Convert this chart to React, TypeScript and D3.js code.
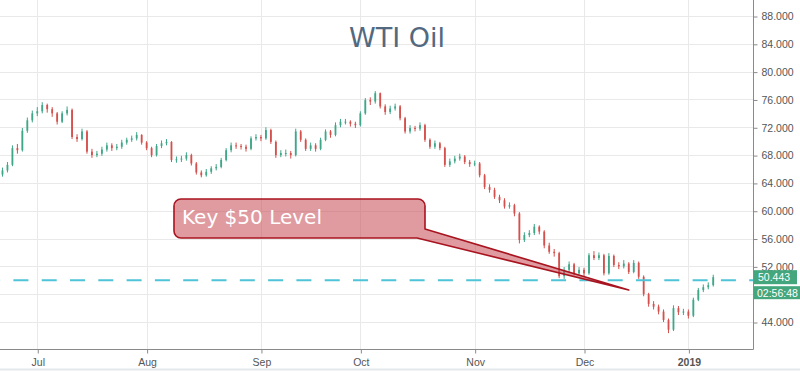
import React, { useRef, useEffect } from "react";
import * as d3 from "d3";

// daily closes (first candle 21 Jun 2018, weekdays)
const closes = [
  65.8, 66.6, 69.0, 68.7, 71.5, 73.0, 74.0, 74.3, 75.2, 74.6,
  74.0, 72.8, 74.0, 74.5, 70.6, 70.3, 71.4, 68.5, 68.0, 68.2,
  68.8, 69.4, 69.0, 69.2, 69.8, 70.2, 70.4, 70.9, 69.8, 69.0,
  68.0, 69.3, 69.7, 69.9, 67.3, 67.4, 67.5, 68.0, 66.8, 65.5,
  65.1, 65.6, 66.1, 66.3, 67.3, 68.7, 69.4, 69.3, 69.2, 68.9,
  70.4, 70.6, 70.4, 71.6, 69.9, 68.0, 68.3, 68.3, 68.0, 71.4,
  70.2, 68.9, 69.4, 68.9, 70.2, 71.4, 70.9, 72.3, 72.8, 72.8,
  72.5, 72.3, 74.0, 75.9, 75.7, 76.9, 75.0, 74.2, 74.7, 75.0,
  73.3, 71.4, 71.9, 71.8, 72.3, 70.2, 69.2, 69.7, 69.0, 66.6,
  67.1, 67.5, 67.8, 67.0, 66.7, 66.8, 65.1, 63.4, 63.0, 62.0,
  61.5, 60.6, 60.8, 59.6, 55.8, 56.5, 56.8, 57.7, 57.0, 55.0,
  54.1, 53.9, 50.6, 51.5, 52.3, 51.0, 51.5, 51.0, 53.6, 53.2,
  53.6, 51.0, 53.5, 52.2, 52.0, 52.4, 51.2, 52.5, 50.5, 48.0,
  46.6, 46.2, 45.5, 44.3, 42.9, 46.0, 45.4, 45.5, 44.9, 47.2,
  48.6, 49.0, 49.3, 50.443,
];
const highs = [
  66.2, 67.0, 69.4, 69.6, 71.9, 73.4, 74.4, 74.9, 75.6, 75.4,
  74.9, 74.2, 74.3, 75.0, 74.7, 71.0, 71.8, 71.6, 68.9, 68.6,
  69.2, 69.8, 69.7, 69.6, 70.2, 70.5, 70.8, 71.3, 71.0, 70.0,
  69.2, 69.6, 70.1, 70.3, 70.0, 67.8, 67.9, 68.4, 68.2, 67.0,
  65.8, 66.0, 66.4, 66.7, 67.6, 69.0, 69.8, 69.8, 69.6, 69.5,
  70.7, 71.0, 70.9, 72.0, 71.8, 70.1, 68.7, 68.8, 68.6, 71.8,
  71.6, 70.4, 69.8, 69.7, 70.5, 71.7, 71.6, 72.7, 73.2, 73.2,
  73.0, 72.8, 74.3, 76.2, 76.3, 77.2, 77.0, 75.3, 75.1, 75.4,
  75.2, 73.5, 72.3, 72.2, 72.7, 72.5, 70.4, 70.1, 69.9, 69.2,
  67.5, 67.9, 68.2, 68.0, 67.3, 67.2, 67.0, 65.3, 63.8, 63.3,
  62.3, 61.8, 61.2, 61.0, 59.8, 56.9, 57.2, 58.1, 57.9, 57.2,
  55.4, 54.5, 54.1, 51.9, 52.7, 52.5, 51.9, 51.8, 53.9, 54.2,
  54.0, 53.8, 53.9, 53.7, 52.6, 52.9, 52.6, 52.9, 52.7, 50.7,
  48.2, 47.0, 46.5, 45.8, 44.5, 46.4, 46.3, 45.9, 45.8, 47.5,
  48.9, 49.4, 49.7, 50.8,
];
const lows = [
  64.9, 65.5, 66.4, 68.2, 68.5, 71.2, 72.7, 73.6, 74.0, 74.1,
  73.5, 72.4, 72.6, 73.7, 70.3, 69.9, 70.1, 68.2, 67.6, 67.7,
  67.9, 68.5, 68.6, 68.7, 68.9, 69.5, 69.9, 70.1, 69.5, 68.7,
  67.7, 67.8, 69.0, 69.4, 67.0, 66.9, 67.0, 67.2, 66.5, 65.2,
  64.8, 64.9, 65.3, 65.8, 66.1, 67.1, 68.4, 68.9, 68.8, 68.5,
  68.7, 70.1, 70.0, 70.2, 69.6, 67.6, 67.7, 67.8, 67.5, 67.8,
  69.9, 68.6, 68.6, 68.5, 68.7, 70.0, 70.5, 70.7, 72.0, 72.4,
  72.1, 71.9, 72.1, 73.8, 75.2, 75.4, 74.7, 73.8, 73.9, 74.4,
  73.0, 71.1, 71.1, 71.4, 71.5, 69.9, 68.9, 68.9, 68.7, 66.3,
  66.3, 66.8, 67.2, 66.7, 66.3, 66.4, 64.8, 63.1, 62.6, 61.7,
  61.1, 60.3, 60.3, 59.2, 55.3, 55.5, 56.2, 56.5, 56.6, 54.6,
  53.8, 53.4, 50.3, 50.2, 51.2, 50.7, 50.8, 50.5, 50.8, 52.9,
  52.9, 50.7, 50.8, 51.9, 51.6, 51.7, 50.9, 51.0, 50.2, 47.7,
  46.2, 45.8, 45.1, 44.0, 42.4, 42.7, 45.0, 45.0, 44.5, 44.7,
  47.0, 48.3, 48.7, 49.1,
];
const firstOpen = 65.2;
const startDate = new Date(2018, 5, 21);

const yTicks = [44, 48, 52, 56, 60, 64, 68, 72, 76, 80, 84, 88];
// 48.000 sits under the countdown tag, so it gets no label
const yLabelTicks = [44, 52, 56, 60, 64, 68, 72, 76, 80, 84, 88];
const title = "WTI Oil";
const keyLevel = 50;
const lastPrice = 50.443;
const countdown = "02:56:48";
const calloutText = "Key $50 Level";
const calloutTip = { index: 126, price: 48.6 };

const UP = "#3fa688";
const DOWN = "#d4504c";
const GREEN_TAG = "#43a67c";

const App = () => {
  const svgRef = useRef<SVGSVGElement>(null);

  useEffect(() => {
    const W = 800;
    const H = 371;
    const plotRight = 753;
    const plotBottom = 349;

    // weekday dates for each candle
    const dates: Date[] = [];
    let d = new Date(startDate);
    while (dates.length < closes.length) {
      if (d.getDay() !== 0 && d.getDay() !== 6) dates.push(new Date(d));
      d = d3.timeDay.offset(d, 1);
    }

    const candles = closes.map((c, i) => ({
      open: i === 0 ? firstOpen : closes[i - 1],
      close: c,
      high: highs[i],
      low: lows[i],
    }));

    const x = d3.scaleLinear().domain([-0.5, 151]).range([0, plotRight]);
    const y = d3.scaleLinear().domain([44, 88]).range([322, 16]);

    // first trading day of each month
    const monthTicks: { i: number; label: string; year: boolean }[] = [];
    dates.forEach((dt, i) => {
      if (i > 0 && dt.getMonth() !== dates[i - 1].getMonth()) {
        const isYear = dt.getMonth() === 0;
        monthTicks.push({
          i,
          label: isYear ? d3.timeFormat("%Y")(dt) : d3.timeFormat("%b")(dt),
          year: isYear,
        });
      }
    });

    const svg = d3.select(svgRef.current);
    svg.selectAll("*").remove();
    svg.attr("width", W).attr("height", H);

    svg.append("rect").attr("width", W).attr("height", H).attr("fill", "#fff");

    // grid
    const grid = svg.append("g").attr("stroke", "#e9e9e9").attr("stroke-width", 1);
    yTicks.forEach((t) => {
      grid
        .append("line")
        .attr("x1", 0)
        .attr("x2", plotRight)
        .attr("y1", Math.round(y(t)) + 0.5)
        .attr("y2", Math.round(y(t)) + 0.5);
    });
    monthTicks.forEach((t) => {
      grid
        .append("line")
        .attr("x1", Math.round(x(t.i)) + 0.5)
        .attr("x2", Math.round(x(t.i)) + 0.5)
        .attr("y1", 0)
        .attr("y2", plotBottom);
    });

    // title
    svg
      .append("text")
      .attr("x", 397)
      .attr("y", 47)
      .attr("text-anchor", "middle")
      .attr("font-family", "DejaVu Sans, sans-serif")
      .attr("font-size", 27)
      .attr("fill", "#52697f")
      .text(title);

    // candles
    const bodyW = 1.8;
    candles.forEach((c, i) => {
      const color = c.close >= c.open ? UP : DOWN;
      const cx = x(i);
      svg
        .append("line")
        .attr("x1", cx)
        .attr("x2", cx)
        .attr("y1", y(c.high))
        .attr("y2", y(c.low))
        .attr("stroke", color)
        .attr("stroke-width", 1);
      const top = y(Math.max(c.open, c.close));
      const h = Math.max(1, Math.abs(y(c.open) - y(c.close)));
      svg
        .append("rect")
        .attr("x", cx - bodyW / 2)
        .attr("y", top)
        .attr("width", bodyW)
        .attr("height", h)
        .attr("fill", color);
    });

    // key level line
    svg
      .append("line")
      .attr("x1", 0)
      .attr("x2", plotRight)
      .attr("y1", y(keyLevel))
      .attr("y2", y(keyLevel))
      .attr("stroke", "#4fc3d8")
      .attr("stroke-width", 2)
      .attr("stroke-dasharray", "15 13.3")
      .attr("stroke-dashoffset", 14.9);

    // callout with tail
    const bx0 = 174, by0 = 199, bx1 = 425, by1 = 238, r = 7;
    const tx = x(calloutTip.index);
    const ty = y(calloutTip.price);
    const path = d3.path();
    path.moveTo(bx0 + r, by0);
    path.lineTo(bx1 - r, by0);
    path.arcTo(bx1, by0, bx1, by0 + r, r);
    path.lineTo(bx1, 229);
    path.lineTo(tx, ty);
    path.lineTo(417, by1);
    path.lineTo(bx0 + r, by1);
    path.arcTo(bx0, by1, bx0, by1 - r, r);
    path.lineTo(bx0, by0 + r);
    path.arcTo(bx0, by0, bx0 + r, by0, r);
    path.closePath();
    svg
      .append("path")
      .attr("d", path.toString())
      .attr("fill", "rgba(199, 72, 84, 0.55)")
      .attr("stroke", "#a8141f")
      .attr("stroke-width", 1.6)
      .attr("stroke-linejoin", "round");
    svg
      .append("text")
      .attr("x", 182)
      .attr("y", 224)
      .attr("font-family", "DejaVu Sans, sans-serif")
      .attr("font-size", 20)
      .attr("fill", "#fff")
      .text(calloutText);

    // axes frame
    svg
      .append("line")
      .attr("x1", plotRight + 0.5)
      .attr("x2", plotRight + 0.5)
      .attr("y1", 0)
      .attr("y2", plotBottom + 0.5)
      .attr("stroke", "#8a8a8a");
    svg
      .append("line")
      .attr("x1", 0)
      .attr("x2", plotRight + 0.5)
      .attr("y1", plotBottom + 0.5)
      .attr("y2", plotBottom + 0.5)
      .attr("stroke", "#8a8a8a");

    // right axis
    const yAxis = svg
      .append("g")
      .attr("transform", `translate(${plotRight + 0.5},0.5)`)
      .call(
        d3
          .axisRight(y)
          .tickValues(yLabelTicks)
          .tickSize(4)
          .tickPadding(4)
          .tickFormat((v) => d3.format(".3f")(v as number))
      );
    yAxis.select(".domain").remove();
    yAxis.selectAll("line").attr("stroke", "#8a8a8a");
    yAxis
      .selectAll("text")
      .attr("font-family", "Liberation Sans, Arial, sans-serif")
      .attr("font-size", 10.5)
      .attr("fill", "#555");

    // bottom axis
    const xAxis = svg
      .append("g")
      .attr("transform", `translate(0.5,${plotBottom + 0.5})`)
      .call(
        d3
          .axisBottom(x)
          .tickValues(monthTicks.map((t) => t.i))
          .tickSize(4)
          .tickPadding(5)
          .tickFormat((v) => monthTicks.find((t) => t.i === v)!.label)
      );
    xAxis.select(".domain").remove();
    xAxis.selectAll("line").attr("stroke", "#8a8a8a");
    xAxis
      .selectAll("text")
      .attr("font-family", "Liberation Sans, Arial, sans-serif")
      .attr("font-size", 10.5)
      .attr("fill", "#555")
      .attr("font-weight", (v) =>
        monthTicks.find((t) => t.i === v)!.year ? "bold" : "normal"
      );

    // price tags
    const tagY = y(lastPrice);
    svg
      .append("rect")
      .attr("x", plotRight + 1)
      .attr("y", tagY - 7)
      .attr("width", 43)
      .attr("height", 14)
      .attr("fill", GREEN_TAG);
    svg
      .append("text")
      .attr("x", plotRight + 5)
      .attr("y", tagY + 4)
      .attr("font-family", "Liberation Sans, Arial, sans-serif")
      .attr("font-size", 10.5)
      .attr("fill", "#fff")
      .text(d3.format(".3f")(lastPrice));
    svg
      .append("rect")
      .attr("x", plotRight + 1)
      .attr("y", tagY + 9)
      .attr("width", 47)
      .attr("height", 13)
      .attr("fill", GREEN_TAG);
    svg
      .append("text")
      .attr("x", plotRight + 4)
      .attr("y", tagY + 19.5)
      .attr("font-family", "Liberation Sans, Arial, sans-serif")
      .attr("font-size", 10.5)
      .attr("fill", "#fff")
      .text(countdown);

    // bottom edge strip
    svg
      .append("line")
      .attr("x1", 0)
      .attr("x2", W)
      .attr("y1", H - 1.5)
      .attr("y2", H - 1.5)
      .attr("stroke", "#e3e8ec")
      .attr("stroke-width", 2);
  }, []);

  return (
    <div style={{ position: "absolute", left: 0, top: 0 }}>
      <svg ref={svgRef} style={{ display: "block" }} />
    </div>
  );
};

export default App;
